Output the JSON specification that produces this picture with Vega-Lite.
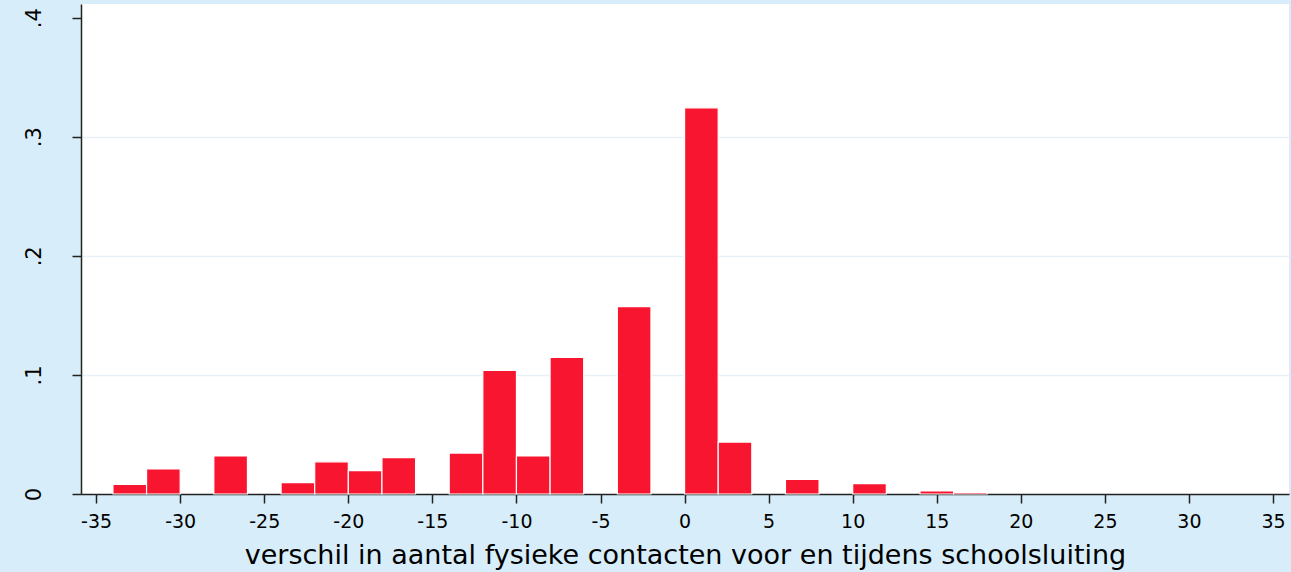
{
  "$schema": "https://vega.github.io/schema/vega-lite/v6.json",
  "width": 1208,
  "height": 490,
  "autosize": {"type": "none"},
  "padding": {"left": 81, "top": 4, "right": 2, "bottom": 78},
  "background": "#d7edf9",
  "view": {"fill": "#ffffff", "stroke": null},
  "config": {"font": "DejaVu Sans"},
  "data": {
    "values": [
      {"start": -34, "end": -32, "density": 0.0081},
      {"start": -32, "end": -30, "density": 0.021},
      {"start": -28, "end": -26, "density": 0.032},
      {"start": -24, "end": -22, "density": 0.0095},
      {"start": -22, "end": -20, "density": 0.027},
      {"start": -20, "end": -18, "density": 0.0196},
      {"start": -18, "end": -16, "density": 0.0305},
      {"start": -14, "end": -12, "density": 0.0344},
      {"start": -12, "end": -10, "density": 0.1037},
      {"start": -10, "end": -8, "density": 0.032},
      {"start": -8, "end": -6, "density": 0.1148},
      {"start": -4, "end": -2, "density": 0.1573},
      {"start": 0, "end": 2, "density": 0.3243},
      {"start": 2, "end": 4, "density": 0.0436},
      {"start": 6, "end": 8, "density": 0.0122},
      {"start": 10, "end": 12, "density": 0.0087},
      {"start": 14, "end": 16, "density": 0.0025},
      {"start": 16, "end": 18, "density": 0.0014}
    ]
  },
  "mark": {"type": "bar", "color": "#f8152f", "stroke": "#ffffff", "strokeWidth": 1.2},
  "encoding": {
    "x": {
      "field": "start",
      "type": "quantitative",
      "scale": {"domain": [-35.9, 35.95], "nice": false, "zero": false},
      "axis": {
        "values": [-35, -30, -25, -20, -15, -10, -5, 0, 5, 10, 15, 20, 25, 30, 35],
        "labelExpr": "'' + datum.value",
        "grid": false,
        "domainColor": "#222222",
        "domainWidth": 1.5,
        "tickColor": "#222222",
        "tickWidth": 1.5,
        "tickSize": 9,
        "labelFontSize": 19,
        "labelColor": "#000000",
        "labelPadding": 9,
        "labelFlush": false,
        "labelOverlap": false,
        "title": "verschil in aantal fysieke contacten voor en tijdens schoolsluiting",
        "titleFontSize": 27,
        "titleFontWeight": "normal",
        "titleColor": "#000000",
        "titlePadding": 11
      }
    },
    "x2": {"field": "end"},
    "y": {
      "field": "density",
      "type": "quantitative",
      "scale": {"domain": [0, 0.4115], "nice": false},
      "axis": {
        "values": [0, 0.1, 0.2, 0.3, 0.4],
        "labelExpr": "datum.value == 0 ? '0' : replace(format(datum.value, '.1f'), '0.', '.')",
        "grid": true,
        "gridColor": "#e8f1f7",
        "gridWidth": 1.5,
        "gridOpacity": {"condition": {"test": "datum.value >= 0.4 || datum.value == 0", "value": 0}, "value": 1},
        "domainColor": "#222222",
        "domainWidth": 1.5,
        "tickColor": "#222222",
        "tickWidth": 1.5,
        "tickSize": 9,
        "labelFontSize": 21,
        "labelColor": "#000000",
        "labelAngle": -90,
        "labelAlign": "center",
        "labelBaseline": "bottom",
        "labelPadding": 28,
        "labelFlush": false,
        "labelOverlap": false,
        "title": null
      }
    },
    "y2": {"datum": 0}
  }
}
